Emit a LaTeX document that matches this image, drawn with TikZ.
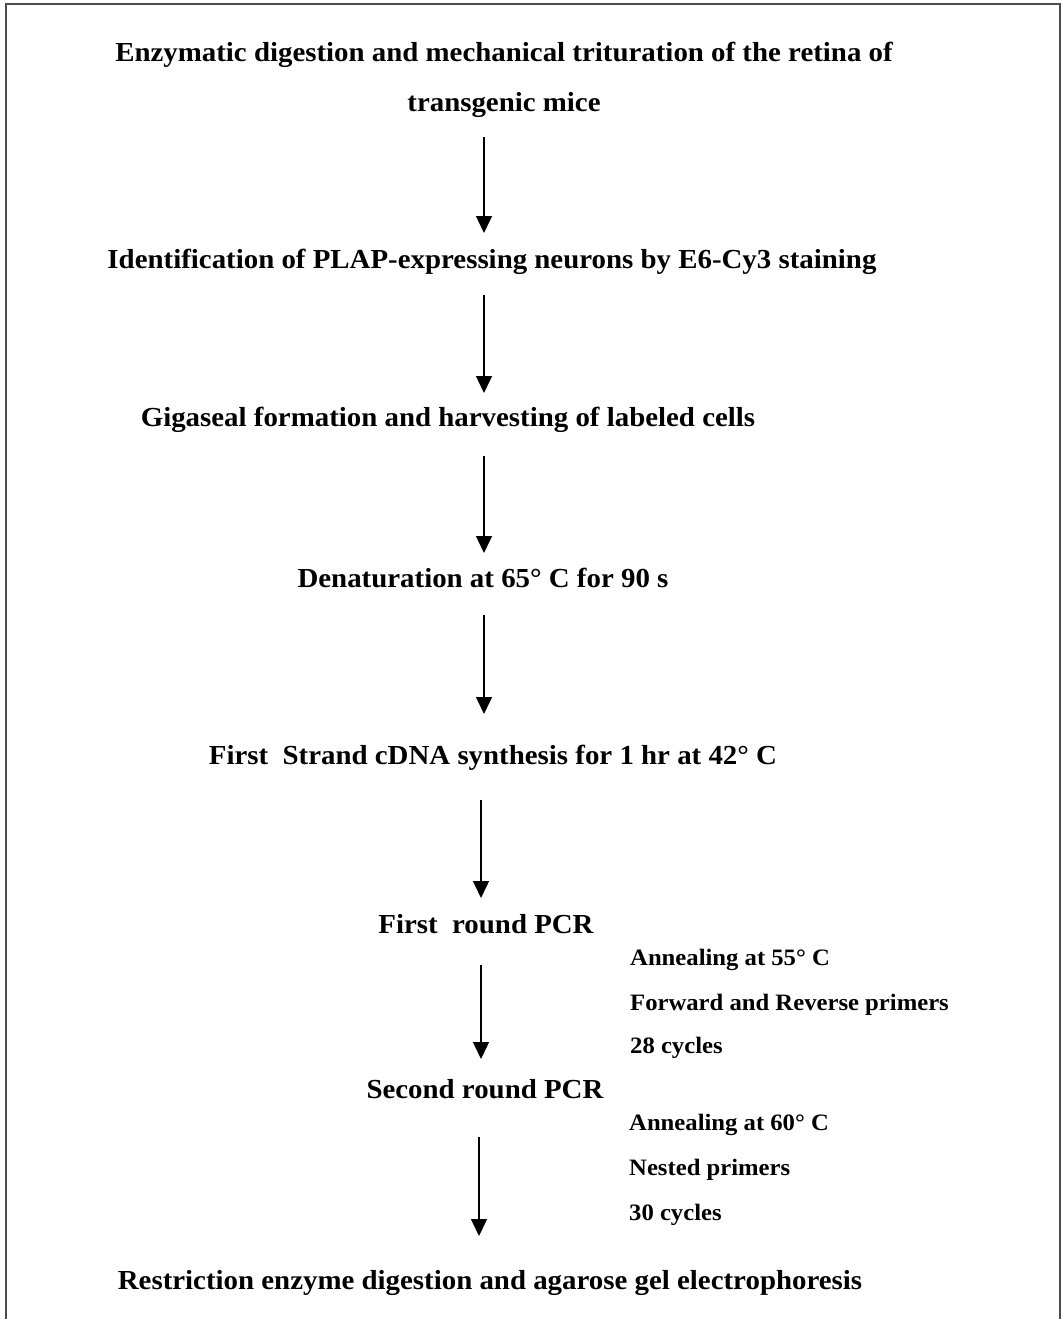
\documentclass[tikz,border=0pt]{standalone}
\usepackage{fontspec}
\setmainfont{Liberation Serif}[FakeStretch=1.05]
\usetikzlibrary{arrows.meta}
\begin{document}
\begin{tikzpicture}[x=1pt,y=-1pt,
  mainlbl/.style={anchor=base,font=\fontsize{27.5}{32}\selectfont\bfseries,inner sep=0pt},
  sidelbl/.style={anchor=base west,font=\fontsize{23.5}{28}\selectfont\bfseries,inner sep=0pt},
  flowarrow/.style={line width=1.4pt,-{Triangle[length=17pt,width=16pt]}}]
\useasboundingbox (0,0) rectangle (1062,1319);
\draw[line width=1.5pt,draw=black!70] (6,1319) -- (6,4) -- (1060,4) -- (1060,1319);
% main steps
\node[mainlbl] (s1) at (504,62) {Enzymatic digestion and mechanical trituration of the retina of};
\node[mainlbl] (s1b) at (504,112) {transgenic mice};
\node[mainlbl] (s2) at (492,268) {Identification of PLAP-expressing neurons by E6-Cy3 staining};
\node[mainlbl] (s3) at (448,426) {Gigaseal formation and harvesting of labeled cells};
\node[mainlbl] (s4) at (483,587) {Denaturation at 65° C for 90 s};
\node[mainlbl] (s5) at (493,764) {First\ \ Strand cDNA synthesis for 1 hr at 42° C};
\node[mainlbl] (s6) at (486,933) {First\ \ round PCR};
\node[mainlbl] (s7) at (485,1098) {Second round PCR};
\node[mainlbl] (s8) at (490,1289) {Restriction enzyme digestion and agarose gel electrophoresis};
% side notes
\node[sidelbl] (n1) at (630,965) {Annealing at 55° C};
\node[sidelbl] (n2) at (630,1010) {Forward and Reverse primers};
\node[sidelbl] (n3) at (630,1053) {28 cycles};
\node[sidelbl] (m1) at (629,1130) {Annealing at 60° C};
\node[sidelbl] (m2) at (629,1175) {Nested primers};
\node[sidelbl] (m3) at (629,1220) {30 cycles};
% arrow end points
\coordinate (a1s) at (484,137); \coordinate (a1e) at (484,233);
\coordinate (a2s) at (484,295); \coordinate (a2e) at (484,393);
\coordinate (a3s) at (484,456); \coordinate (a3e) at (484,553);
\coordinate (a4s) at (484,615); \coordinate (a4e) at (484,714);
\coordinate (a5s) at (481,800); \coordinate (a5e) at (481,898);
\coordinate (a6s) at (481,965); \coordinate (a6e) at (481,1059);
\coordinate (a7s) at (479,1137); \coordinate (a7e) at (479,1236);
\foreach \i in {1,...,7} \draw[flowarrow] (a\i s) -- (a\i e);
\end{tikzpicture}
\end{document}
